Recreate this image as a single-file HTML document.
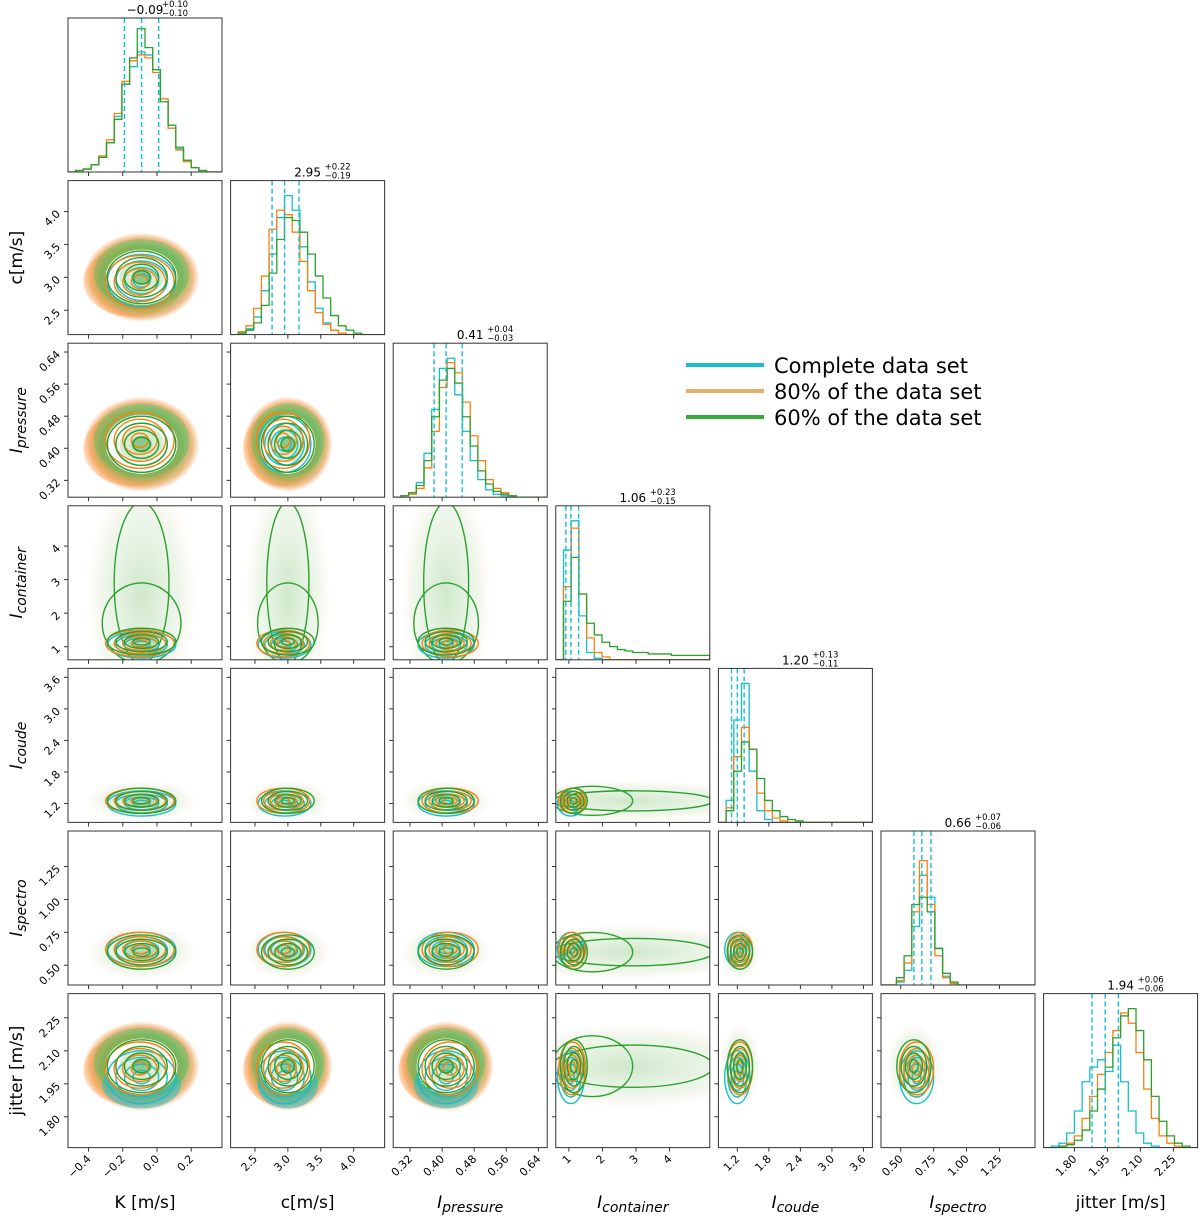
<!DOCTYPE html>
<html><head><meta charset="utf-8">
<style>
body{margin:0;background:#fff;}
svg{display:block;font-family:"DejaVu Sans","Liberation Sans",sans-serif;}
</style></head>
<body>
<svg id="chart" width="1200" height="1216" viewBox="0 0 1200 1216">
<defs>
<radialGradient id="cloudG" cx="50%" cy="50%" r="50%">
<stop offset="0%" stop-color="#5cb85c" stop-opacity="0.95"/>
<stop offset="70%" stop-color="#6cb85a" stop-opacity="0.9"/>
<stop offset="88%" stop-color="#e8903a" stop-opacity="0.6"/>
<stop offset="100%" stop-color="#e8903a" stop-opacity="0.0"/>
</radialGradient>
<radialGradient id="faintG" cx="50%" cy="50%" r="50%">
<stop offset="0%" stop-color="#a8d5a0" stop-opacity="0.55"/>
<stop offset="70%" stop-color="#cfe6c6" stop-opacity="0.35"/>
<stop offset="100%" stop-color="#f4d6b8" stop-opacity="0"/>
</radialGradient>
</defs>
</svg>
<script>
// ---- data ----
const params = ['K','c','Ip','Ic','Icoude','Is','jitter'];
const lo = [-0.52, 2.13, 0.278, 0.61, 0.84, 0.35, 1.66];
const hi = [0.38, 4.47, 0.662, 5.2, 3.77, 1.52, 2.36];
const medians = [-0.09, 2.95, 0.41, 1.06, 1.20, 0.66, 1.94];
const errUp = [0.10, 0.22, 0.04, 0.23, 0.13, 0.07, 0.06];
const errDn = [0.10, 0.19, 0.03, 0.15, 0.11, 0.06, 0.06];
const titleMed = ['\u22120.09','2.95','0.41','1.06','1.20','0.66','1.94'];
const titleUp = ['+0.10','+0.22','+0.04','+0.23','+0.13','+0.07','+0.06'];
const titleDn = ['\u22120.10','\u22120.19','\u22120.03','\u22120.15','\u22120.11','\u22120.06','\u22120.06'];
const ticks = [[-0.4,-0.2,0.0,0.2],[2.5,3.0,3.5,4.0],[0.32,0.40,0.48,0.56,0.64],[1,2,3,4],[1.2,1.8,2.4,3.0,3.6],[0.50,0.75,1.00,1.25],[1.80,1.95,2.10,2.25]];
const tickLabels = [['\u22120.4','\u22120.2','0.0','0.2'],['2.5','3.0','3.5','4.0'],['0.32','0.40','0.48','0.56','0.64'],['1','2','3','4'],['1.2','1.8','2.4','3.0','3.6'],['0.50','0.75','1.00','1.25'],['1.80','1.95','2.10','2.25']];
const seriesColors = ['#17becf','#ff7f0e','#2ca02c'];
const seriesNames = ['Complete data set','80% of the data set','60% of the data set'];
const legendColors = ['#17becf','#e3b06c','#3aa83a'];
// per-series centres
const centerCyan = [-0.09, 2.95, 0.41, 1.06, 1.20, 0.62, 1.98];
const centerOrange = [-0.10, 2.93, 0.42, 1.10, 1.25, 0.62, 2.02];
const centerGreen = [-0.09, 3.00, 0.41, 1.15, 1.25, 0.60, 2.03];
const sigma = [0.10, 0.20, 0.035, 0.20, 0.12, 0.065, 0.06];
// histograms (20 bins over [lo,hi])
const histK = [[0,.01,.02,.05,.1,.2,.38,.6,.72,.82,.8,.7,.5,.3,.16,.08,.03,.01,0,0],[0,.01,.02,.05,.11,.22,.4,.62,.76,.8,.78,.68,.5,.3,.15,.07,.03,.01,0,0],[0,.01,.02,.05,.1,.2,.36,.6,.78,.98,.85,.7,.48,.32,.17,.08,.03,.01,0,0]];
const histC = [[0,.01,.04,.12,.3,.55,.8,.95,.85,.6,.36,.18,.08,.03,.01,0,0,0,0,0],[0,.02,.06,.18,.4,.72,.85,.82,.7,.5,.3,.15,.07,.03,.01,0,0,0,0,0],[0,.01,.03,.08,.2,.42,.65,.8,.78,.7,.55,.4,.25,.13,.06,.03,.01,0,0,0]];
const histIp = [[0,.01,.03,.1,.3,.6,.88,.95,.7,.45,.25,.12,.05,.02,.01,0,0,0,0,0],[0,.01,.02,.06,.2,.45,.75,.92,.85,.65,.42,.25,.12,.06,.03,.01,0,0,0,0],[0,.01,.03,.08,.25,.55,.8,.88,.78,.55,.35,.18,.09,.04,.02,.01,0,0,0,0]];
const histIc = [[0,.75,.95,.3,.05,.01,0,0,0,0,0,0,0,0,0,0,0,0,0,0],[0,.5,.9,.45,.15,.05,.02,0,0,0,0,0,0,0,0,0,0,0,0,0],[0,.4,.7,.45,.25,.17,.12,.09,.07,.06,.05,.05,.04,.04,.04,.03,.03,.03,.03,.03]];
const histIcoude = [[0,.15,.7,.95,.35,.08,.02,0,0,0,0,0,0,0,0,0,0,0,0,0],[0,.1,.45,.65,.5,.2,.08,.03,.01,0,0,0,0,0,0,0,0,0,0,0],[0,.08,.35,.55,.5,.3,.15,.08,.04,.02,.01,0,0,0,0,0,0,0,0,0]];
const histIs = [[0,0,.02,.1,.4,.75,.6,.25,.06,.01,0,0,0,0,0,0,0,0,0,0],[0,0,.03,.15,.5,.85,.55,.2,.05,.01,0,0,0,0,0,0,0,0,0,0],[0,0,.05,.2,.55,.6,.5,.25,.08,.02,0,0,0,0,0,0,0,0,0,0]];
const histJ = [[0,.01,.03,.1,.25,.45,.55,.6,.52,.7,.45,.25,.1,.03,.01,0,0,0,0,0],[0,0,.01,.03,.08,.2,.35,.5,.65,.8,.92,.85,.65,.4,.2,.08,.03,.01,0,0],[0,0,.01,.02,.05,.12,.25,.4,.55,.75,.9,.95,.8,.6,.35,.18,.08,.03,.01,0]];
const hists = [histK,histC,histIp,histIc,histIcoude,histIs,histJ];
const contourLevels = [0.5, 1.0, 1.5, 2.0];

// ---- drawing ----
const NS='http://www.w3.org/2000/svg';
const svg=document.getElementById('chart');
const S=154, STEP=162.6, X0=68, Y0=18;
function mk(tag,attrs,parent){const e=document.createElementNS(NS,tag);for(const k in attrs)e.setAttribute(k,attrs[k]);(parent||svg).appendChild(e);return e;}
function px(col){return X0+STEP*col;}
function py(row){return Y0+STEP*row;}
function xs(p,col,v){return px(col)+(v-lo[p])/(hi[p]-lo[p])*S;}
function ys(p,row,v){return py(row)+S-(v-lo[p])/(hi[p]-lo[p])*S;}
const centers=[centerCyan,centerOrange,centerGreen];
const strongRows=[1,2,6];

for(let r=0;r<7;r++){
  for(let c=0;c<=r;c++){
    const g=mk('g',{});
    
    
    const cp=mk('clipPath',{id:'cl'+r+c},g);
    mk('rect',{x:px(c),y:py(r),width:S,height:S},cp);
    const inner=mk('g',{'clip-path':'url(#cl'+r+c+')'},g);
    if(r===c){
      const p=c, H=hists[p];
      for(let s=0;s<3;s++){
        const n=H[s].length; let d='';
        for(let i=0;i<n;i++){
          const xa=xs(p,c,lo[p]+(hi[p]-lo[p])*i/n), xb=xs(p,c,lo[p]+(hi[p]-lo[p])*(i+1)/n);
          const yv=py(r)+S-H[s][i]*S*0.95;
          d+=(i===0?'M'+xa+','+(py(r)+S):'')+' L'+xa+','+yv+' L'+xb+','+yv;
        }
        d+=' L'+xs(p,c,hi[p])+','+(py(r)+S);
        const ln=mk('path',{d:d,fill:'none',stroke:seriesColors[s],'stroke-width':1.3},inner);
        
        
      }
      [medians[p]-errDn[p],medians[p],medians[p]+errUp[p]].forEach(v=>{
        const dl=mk('line',{x1:xs(p,c,v),x2:xs(p,c,v),y1:py(r),y2:py(r)+S,stroke:'#17becf','stroke-width':1.4,'stroke-dasharray':'5,3'},inner);
        
        
      });
      const t=mk('text',{x:px(c)+S/2,y:py(r)-4,'text-anchor':'middle','font-size':12},g);
      
      
      t.textContent=titleMed[p];
      const t1=mk('text',{x:px(c)+S/2+17,y:py(r)-11,'font-size':8.5},g);t1.textContent=titleUp[p];
      const t2=mk('text',{x:px(c)+S/2+17,y:py(r)-2,'font-size':8.5},g);t2.textContent=titleDn[p];
    } else {
      const px_=c, py_=r;
      const strong=(strongRows.includes(r)&&c<3);
      const cx=xs(px_,c,centers[2][px_]), cy=ys(py_,r,centers[2][py_]);
      const rx=sigma[px_]/(hi[px_]-lo[px_])*S, ry=sigma[py_]/(hi[py_]-lo[py_])*S;
      if(strong){
        mk('ellipse',{cx:cx,cy:cy,rx:rx*3.4,ry:ry*3.4,fill:'url(#cloudG)'},inner);
        mk('ellipse',{cx:cx-rx*0.5,cy:cy+ry*0.3,rx:rx*2.9,ry:ry*2.7,fill:'#ff8c2a',opacity:0.3},inner);
        mk('ellipse',{cx:cx,cy:cy-ry*0.3,rx:rx*2.8,ry:ry*2.6,fill:'#5cb85c',opacity:0.4},inner);
        if(r===6) mk('ellipse',{cx:cx,cy:cy+ry*1.4,rx:rx*2.3,ry:ry*1.8,fill:'#17becf',opacity:0.5},inner);
        mk('ellipse',{cx:cx,cy:cy,rx:rx*2.1,ry:ry*2.1,fill:'#fff'},inner);
        mk('ellipse',{cx:cx,cy:cy,rx:rx*1.3,ry:ry*1.3,fill:'#d8ecd2'},inner);
        mk('ellipse',{cx:cx,cy:cy,rx:rx*0.6,ry:ry*0.6,fill:'#8cc98a'},inner);
      } else {
        let frx=rx*3.2, fry=ry*3.2, fcx=cx, fcy=cy;
        if(py_===3){fry=S*0.75;fcy=ys(3,r,2.6);}
        if(px_===3){frx=S*0.9;fcx=xs(3,c,2.8);}
        mk('ellipse',{cx:fcx,cy:fcy,rx:frx,ry:fry,fill:'url(#faintG)'},inner);
        mk('ellipse',{cx:cx,cy:cy,rx:rx*1,ry:ry*1,fill:'#9fd09a',opacity:0.6},inner);
      }
      if(px_===3||py_===3){
        const ecx = px_===3 ? xs(3,c,2.9) : cx, ecy = py_===3 ? ys(3,r,2.9) : cy;
        const erx = px_===3 ? 2.4/(hi[3]-lo[3])*S : rx*1.6;
        const ery = py_===3 ? 2.4/(hi[3]-lo[3])*S : ry*1.6;
        const ex=mk('ellipse',{cx:ecx,cy:ecy,rx:erx,ry:ery,fill:'none',stroke:'#2ca02c','stroke-width':1.4},inner);
        
        
        const ex2=mk('ellipse',{cx:px_===3?xs(3,c,1.7):cx,cy:py_===3?ys(3,r,1.7):cy,rx:px_===3?1.2/(hi[3]-lo[3])*S:rx*2.3,ry:py_===3?1.2/(hi[3]-lo[3])*S:ry*2.3,fill:'none',stroke:'#2ca02c','stroke-width':1.4},inner);
        
        
      }
      for(let s=0;s<3;s++){
        const scx=xs(px_,c,centers[s][px_]), scy=ys(py_,r,centers[s][py_]);
        contourLevels.forEach(k=>{
          const e=mk('ellipse',{cx:scx,cy:scy,rx:rx*k,ry:ry*k,fill:'none',stroke:seriesColors[s],'stroke-width':1.4},inner);
          
          
        });
      }
    }
    const fr=mk('rect',{x:px(c),y:py(r),width:S,height:S,fill:'none',stroke:'#333','stroke-width':1},g);
    
    
    ticks[c].forEach((v,i)=>{
      const x=xs(c,c,v);
      mk('line',{x1:x,x2:x,y1:py(r)+S,y2:py(r)+S+4,stroke:'#333'},g);
      if(r===6){
        const tl=mk('text',{x:x+3,y:py(r)+S+12,'font-size':11,'text-anchor':'end',transform:'rotate(-45 '+(x+3)+' '+(py(r)+S+12)+')'},g);
        
        
        tl.textContent=tickLabels[c][i];
      }
    });
    if(r!==c){
      ticks[r].forEach((v,i)=>{
        const y=ys(r,r,v);
        mk('line',{x1:px(c)-4,x2:px(c),y1:y,y2:y,stroke:'#333'},g);
        if(c===0){
          const tl=mk('text',{x:px(c)-7,y:y+3,'font-size':11,'text-anchor':'end',transform:'rotate(-45 '+(px(c)-7)+' '+(y+3)+')'},g);
          
          
          tl.textContent=tickLabels[r][i];
        }
      });
    }
  }
}
// axis labels
const axisMain=['K [m/s]','c[m/s]','I','I','I','I','jitter [m/s]'];
const axisSub=['','','pressure','container','coude','spectro',''];
for(let i=0;i<7;i++){
  const xl=mk('text',{x:px(i)+S/2,y:1208,'font-size':17,'text-anchor':'middle'});
  
  
  if(axisSub[i]){
    const a=mk('tspan',{'font-style':'italic'},xl);a.textContent=axisMain[i];
    const b=mk('tspan',{'font-style':'italic','font-size':14,dy:4},xl);b.textContent=axisSub[i];
  } else xl.textContent=axisMain[i];
  if(i>0){
    const yy=py(i)+S/2;
    const yl=mk('text',{x:22,y:yy,'font-size':17,'text-anchor':'middle',transform:'rotate(-90 22 '+yy+')'});
    
    
    if(axisSub[i]){
      const a=mk('tspan',{'font-style':'italic'},yl);a.textContent=axisMain[i];
      const b=mk('tspan',{'font-style':'italic','font-size':14,dy:4},yl);b.textContent=axisSub[i];
    } else yl.textContent=axisMain[i];
  }
}
// legend
const lg=mk('g',{});


for(let s=0;s<3;s++){
  const y=365+26*s;
  const it=mk('g',{},lg);
  
  
  mk('line',{x1:686,x2:764,y1:y,y2:y,stroke:legendColors[s],'stroke-width':4},it);
  const t=mk('text',{x:774,y:y+8,'font-size':21},it);t.textContent=seriesNames[s];
}
</script>
</body></html>
